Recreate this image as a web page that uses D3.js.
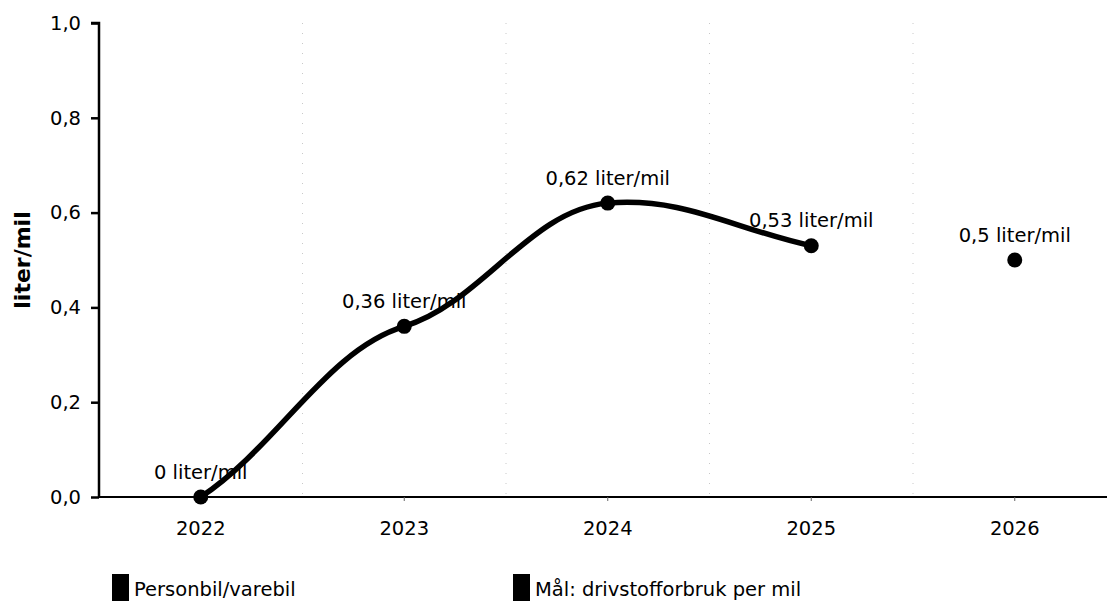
<!DOCTYPE html>
<html>
<head>
<meta charset="utf-8">
<script src="https://cdn.jsdelivr.net/npm/d3@7"></script>
<style>
  html, body { margin: 0; padding: 0; background: #fff; }
  svg { display: block; font-family: "DejaVu Sans", Verdana, sans-serif; }
</style>
</head>
<body>
<svg id="chart" width="1107" height="601"></svg>
<script>
const years = ["2022", "2023", "2024", "2025", "2026"];
const seriesYears = ["2022", "2023", "2024", "2025"];
const seriesValues = [0, 0.36, 0.62, 0.53];
const targetYears = ["2026"];
const targetValues = [0.5];
const yTicks = [0, 0.2, 0.4, 0.6, 0.8, 1.0];
const yLabel = "liter/mil";
const legendLabels = ["Personbil/varebil", "Mål: drivstofforbruk per mil"];
const unit = "liter/mil";

const FS = 19.5;
const svg = d3.select("#chart");
const margin = { left: 99 };

const x = d3.scaleBand().domain(years).range([99, 99 + 5 * 203.5]);
const xc = d => x(d) + x.bandwidth() / 2;
const y = d3.scaleLinear().domain([0, 1]).range([497, 23]);

const fmtNum = v => String(+v.toFixed(2)).replace(".", ",");
const fmtTick = v => v.toFixed(1).replace(".", ",");

// faint vertical gridlines at band boundaries
svg.append("g").selectAll("line")
  .data(years.slice(1))
  .enter().append("line")
  .attr("x1", d => x(d)).attr("x2", d => x(d))
  .attr("y1", y(1)).attr("y2", y(0))
  .attr("stroke", "#c8c8c8")
  .attr("stroke-width", 1)
  .attr("stroke-dasharray", "1,9");

// y axis
const yAxis = d3.axisLeft(y).tickValues(yTicks).tickFormat(fmtTick).tickSize(8).tickPadding(10);
const ya = svg.append("g").attr("transform", `translate(${margin.left},0)`).call(yAxis);
ya.select(".domain").attr("stroke", "#000").attr("stroke-width", 2.5).attr("d", `M-8,${y(1)}H0V${y(0)}`);
ya.selectAll(".tick line").attr("stroke", "#000").attr("stroke-width", 2.5);
ya.selectAll(".tick text").attr("font-size", FS).attr("fill", "#000")
  .attr("font-family", "DejaVu Sans, Verdana, sans-serif");

// x axis
const xAxis = d3.axisBottom(x).tickSize(4).tickPadding(20);
const xa = svg.append("g").attr("transform", `translate(0,${y(0)})`).call(xAxis);
xa.select(".domain").attr("stroke", "#000").attr("stroke-width", 2).attr("d", `M${margin.left},0H1107`);
xa.selectAll(".tick line").attr("stroke", "#666").attr("stroke-width", 1);
xa.selectAll(".tick text").attr("font-size", FS).attr("fill", "#000")
  .attr("font-family", "DejaVu Sans, Verdana, sans-serif");

// y label
svg.append("text")
  .attr("transform", `translate(30,${(y(0) + y(1)) / 2}) rotate(-90)`)
  .attr("text-anchor", "middle")
  .attr("font-size", 22)
  .attr("font-weight", "bold")
  .attr("fill", "#000")
  .text(yLabel);

// smoothed series line (cubic Bezier with softened tangents)
const pts = seriesYears.map((yr, i) => ({ yr, v: seriesValues[i], px: xc(yr), py: y(seriesValues[i]) }));
function smoothPath(p) {
  const n = p.length;
  const alpha = 0.42, gamma = 0.6, beta = 0.38;
  const sec = [];
  for (let i = 0; i < n - 1; i++) sec.push((p[i + 1].py - p[i].py) / (p[i + 1].px - p[i].px));
  const m = new Array(n);
  for (let i = 1; i < n - 1; i++) m[i] = alpha * (p[i + 1].py - p[i - 1].py) / (p[i + 1].px - p[i - 1].px);
  m[0] = gamma * (3 * sec[0] - m[1]) / 2;
  m[n - 1] = gamma * (3 * sec[n - 2] - m[n - 2]) / 2;
  const path = d3.path();
  path.moveTo(p[0].px, p[0].py);
  for (let i = 0; i < n - 1; i++) {
    const d = (p[i + 1].px - p[i].px) * beta;
    path.bezierCurveTo(p[i].px + d, p[i].py + m[i] * d,
                       p[i + 1].px - d, p[i + 1].py - m[i + 1] * d,
                       p[i + 1].px, p[i + 1].py);
  }
  return path.toString();
}
svg.append("path")
  .attr("d", smoothPath(pts))
  .attr("fill", "none")
  .attr("stroke", "#000")
  .attr("stroke-width", 5.5)
  .attr("stroke-linecap", "round");

const allPts = pts.concat(targetYears.map((yr, i) => ({ yr, v: targetValues[i] })));
svg.selectAll("circle.pt")
  .data(allPts)
  .enter().append("circle")
  .attr("cx", d => xc(d.yr))
  .attr("cy", d => y(d.v))
  .attr("r", 7.5)
  .attr("fill", "#000");

svg.selectAll("text.lbl")
  .data(allPts)
  .enter().append("text")
  .attr("x", d => xc(d.yr))
  .attr("y", d => y(d.v) - 18.5)
  .attr("text-anchor", "middle")
  .attr("font-size", FS)
  .attr("fill", "#000")
  .text(d => `${fmtNum(d.v)} ${unit}`);

// legend
const legX = [112, 513];
legendLabels.forEach((t, i) => {
  svg.append("rect").attr("x", legX[i]).attr("y", 574).attr("width", 17).attr("height", 27).attr("fill", "#000");
  svg.append("text").attr("x", legX[i] + 22).attr("y", 596)
    .attr("font-size", FS).attr("fill", "#000").text(t);
});
</script>
</body>
</html>
